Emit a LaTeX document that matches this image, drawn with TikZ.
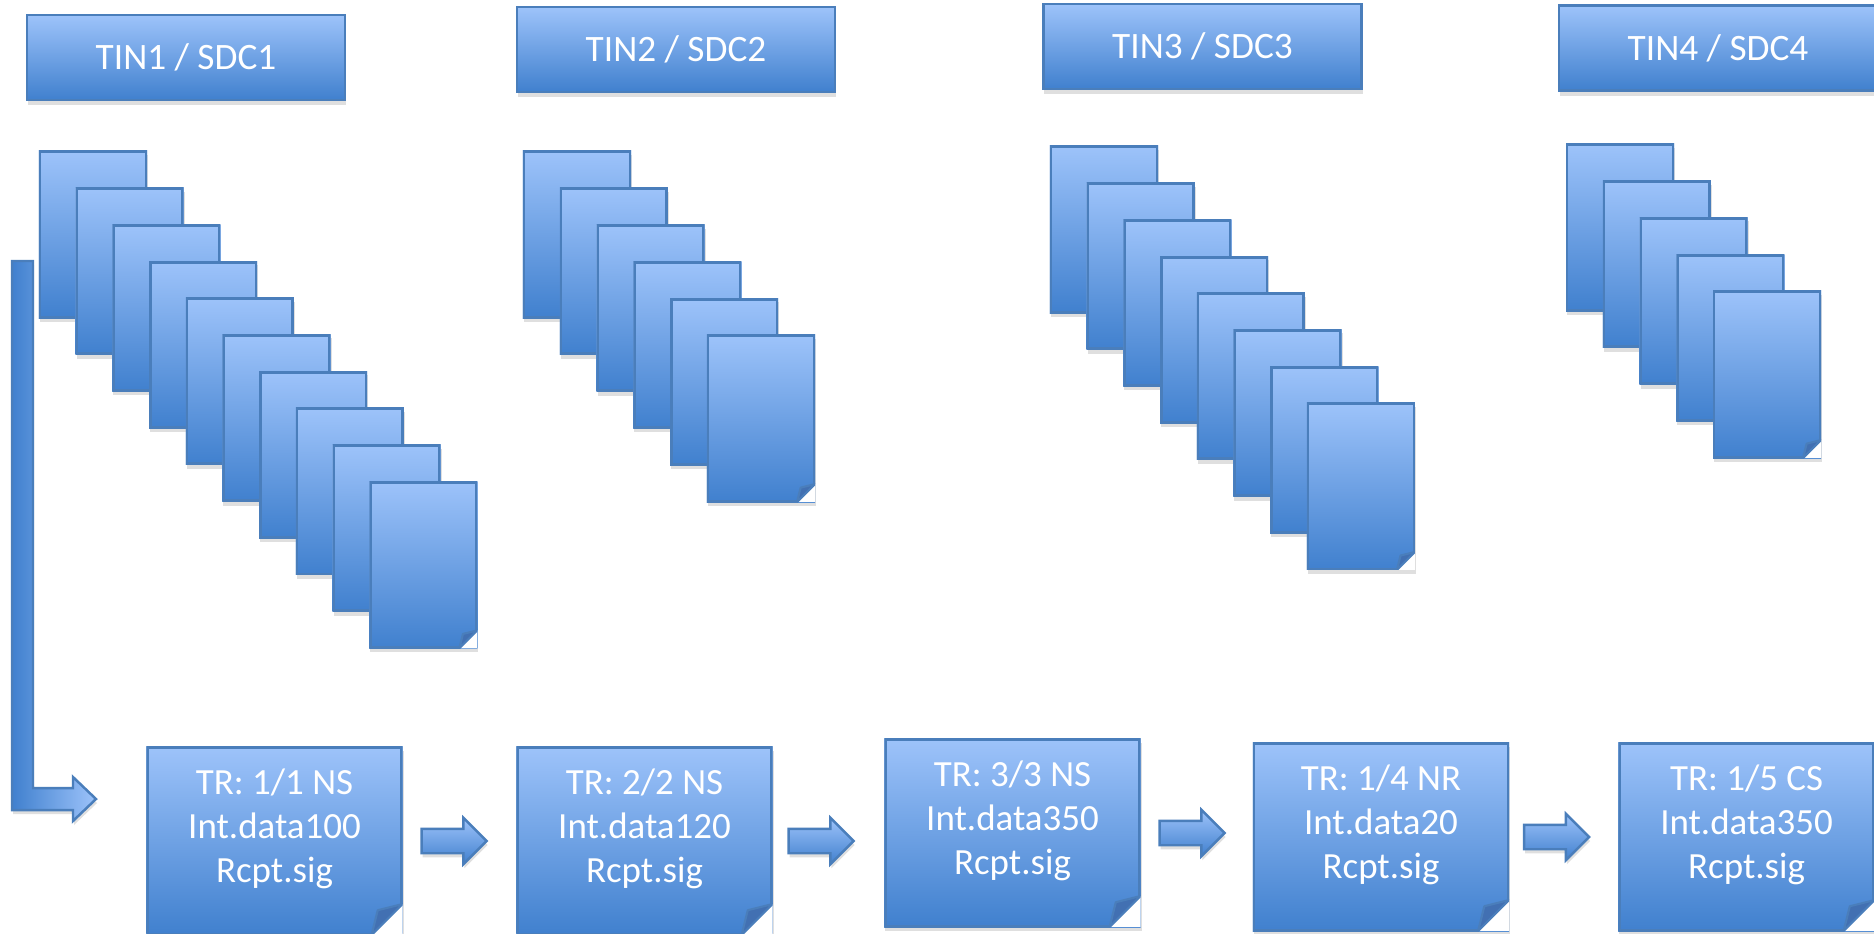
\documentclass[tikz,border=0pt]{standalone}
\usepackage{fontspec}
\setmainfont{Carlito}
\usetikzlibrary{shapes.arrows,positioning,shadows}
\definecolor{paperlight}{RGB}{157,195,250}
\definecolor{paperdark}{RGB}{64,128,206}
\definecolor{paperedge}{RGB}{74,126,187}
\definecolor{foldcolor}{RGB}{66,112,178}

\begin{document}
\begin{tikzpicture}[x=0.01cm, y=-0.01cm,
    paper/.style={rectangle, inner sep=0pt, top color=paperlight, bottom color=paperdark,
        drop shadow={shadow xshift=0.01cm, shadow yshift=-0.04cm, opacity=0.25},
        path picture={
            \fill[white] ([xshift=-#1]path picture bounding box.south east)
                -- (path picture bounding box.south east)
                -- ([yshift=#1]path picture bounding box.south east) -- cycle;
            \draw[paperedge, line width=1.4pt] ([yshift=#1]path picture bounding box.south east)
                -- (path picture bounding box.north east) -- (path picture bounding box.north west)
                -- (path picture bounding box.south west) -- ([xshift=-#1]path picture bounding box.south east);
            \draw[paperedge, fill=foldcolor, line width=0.6pt, line join=round]
                ([yshift=#1]path picture bounding box.south east)
                -- ([xshift=-#1]path picture bounding box.south east)
                -- ([xshift=-0.8*#1, yshift=0.8*#1]path picture bounding box.south east) -- cycle;}},
    page/.style={paper=0.18cm, minimum width=1.08cm, minimum height=1.67cm},
    slip/.style={paper=0.31cm, minimum width=2.56cm, minimum height=1.88cm},
    note/.style={text=white, align=center, inner sep=0pt, font=\fontsize{10.5}{12.6}\selectfont},
    tinbox/.style={rectangle, draw=paperedge, line width=0.7pt, top color=paperlight, bottom color=paperdark,
        minimum width=3.18cm, minimum height=0.85cm, text=white, font=\fontsize{10.6}{12}\selectfont,
        drop shadow={shadow xshift=0.01cm, shadow yshift=-0.05cm, opacity=0.25}},
    hop/.style={single arrow, draw=paperedge, line width=0.7pt, top color=paperlight, bottom color=paperdark,
        minimum height=0.65cm, minimum width=0.44cm, single arrow head extend=0.11cm,
        single arrow tip angle=90, inner xsep=0pt, inner ysep=0.11cm,
        drop shadow={shadow xshift=0.01cm, shadow yshift=-0.04cm, opacity=0.25}}
]
    \useasboundingbox (0,0) rectangle (1874,933);

    % Title boxes
    \node[tinbox] (h1) at (186, 57.5) {TIN1 / SDC1};
    \node[tinbox] (h2) at (676, 49.5) {TIN2 / SDC2};
    \node[tinbox] (h3) at (1202.5, 46.5) {TIN3 / SDC3};
    \node[tinbox] (h4) at (1718, 48) {TIN4 / SDC4};

    % Stacks of pages
    \foreach \i in {0,...,9}
        \node[page] (sa\i) at ({93+36.7*\i}, {234.5+36.7*\i}) {};
    \foreach \i in {0,...,5}
        \node[page] (sb\i) at ({577+36.8*\i}, {234.5+36.8*\i}) {};
    \foreach \i in {0,...,7}
        \node[page] (sc\i) at ({1104+36.7*\i}, {229.5+36.7*\i}) {};
    \foreach \i in {0,...,4}
        \node[page] (sd\i) at ({1620+36.75*\i}, {227.5+36.75*\i}) {};

    % Transaction records
    \node[slip] (t1) at (274.5, 841) {};
    \node[slip] (t2) at (644.5, 841) {};
    \node[slip] (t3) at (1012.5, 833) {};
    \node[slip] (t4) at (1381, 837) {};
    \node[slip] (t5) at (1746.5, 837) {};

    \node[note] (n1) at ([yshift=0.12cm]t1.center) {TR: 1/1 NS\\Int.data100\\Rcpt.sig};
    \node[note] (n2) at ([yshift=0.12cm]t2.center) {TR: 2/2 NS\\Int.data120\\Rcpt.sig};
    \node[note] (n3) at ([yshift=0.12cm]t3.center) {TR: 3/3 NS\\Int.data350\\Rcpt.sig};
    \node[note] (n4) at ([yshift=0.12cm]t4.center) {TR: 1/4 NR\\Int.data20\\Rcpt.sig};
    \node[note] (n5) at ([yshift=0.12cm]t5.center) {TR: 1/5 CS\\Int.data350\\Rcpt.sig};

    % Arrows between records
    \node[hop, right=0.17cm of t1] (r1) {};
    \node[hop, right=0.14cm of t2] (r2) {};
    \node[hop, right=0.17cm of t3] (r3) {};
    \node[hop, right=0.13cm of t4] (r4) {};

    % Bent arrow into the first record
    \draw[paperedge, line width=0.7pt, left color=paperdark, right color=paperlight,
        drop shadow={shadow xshift=0.01cm, shadow yshift=-0.04cm, opacity=0.25}]
        (12,261) -- (33,261) -- (33,788) -- (73,788) -- (73,777) -- (96,799)
        -- (73,821) -- (73,810) -- (12,810) -- cycle;
\end{tikzpicture}
\end{document}
